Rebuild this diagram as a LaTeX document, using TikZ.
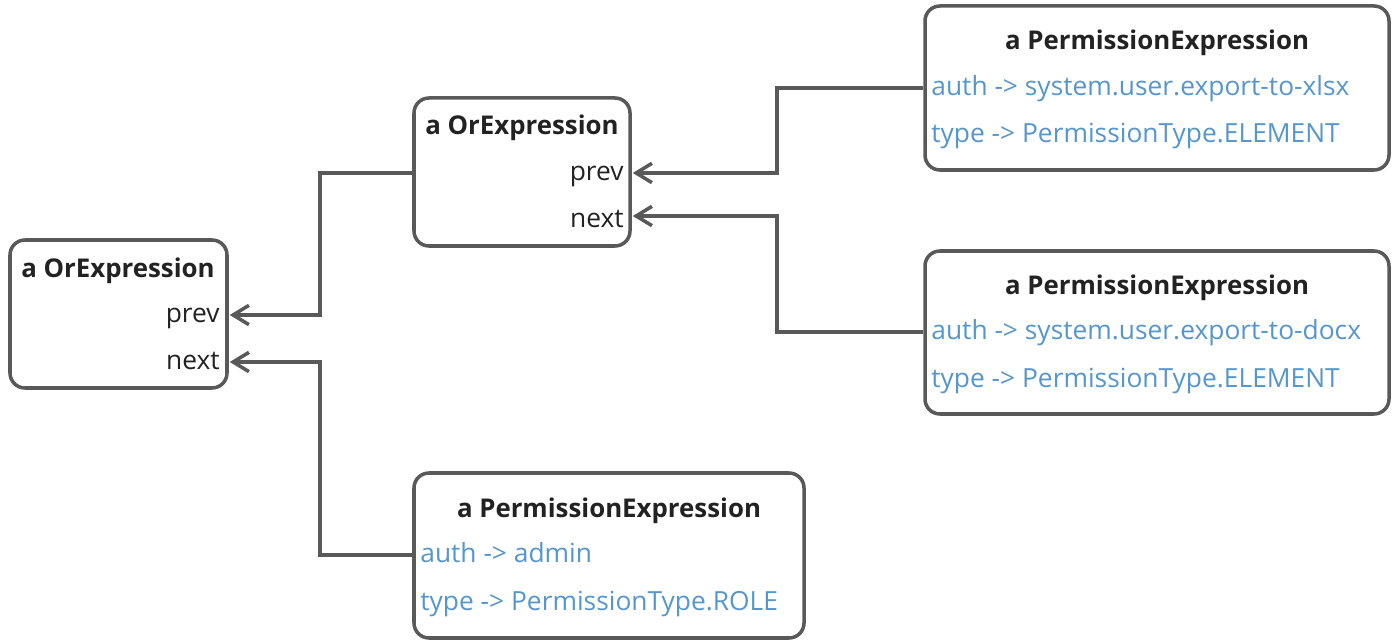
\documentclass[tikz,border=0pt]{standalone}
\usepackage{fontspec}
\setmainfont{Open Sans}
\usetikzlibrary{arrows.meta}
\definecolor{linegray}{HTML}{595959}
\definecolor{titleblack}{HTML}{222222}
\definecolor{fieldblue}{HTML}{5596CD}
\newdimen\upx \upx=0.02cm
\tikzset{
  objbox/.style={draw=linegray, line width=2pt, rounded corners=15\upx, inner sep=0pt},
  title/.style={font=\fontsize{14.7}{16}\selectfont\bfseries, text=titleblack, inner sep=0pt},
  slot/.style={font=\fontsize{15}{17}\selectfont, text=titleblack, inner sep=0pt, anchor=mid east},
  field/.style={font=\fontsize{15}{17}\selectfont, text=fieldblue, inner sep=0pt, anchor=mid west},
  ref/.style={draw=linegray, line width=2pt, -{Straight Barb[length=9pt, width=11pt, line width=2pt]}}
}
\begin{document}
\begin{tikzpicture}[x=0.02cm, y=-0.02cm]
  \useasboundingbox (0,0) rectangle (1399,644);
  % boxes
  \node[objbox, minimum width=217\upx, minimum height=148\upx] (orA) at (118.5,314) {};
  \node[objbox, minimum width=216\upx, minimum height=148\upx] (orB) at (522,172) {};
  \node[objbox, minimum width=464\upx, minimum height=164\upx] (permC) at (1157,88) {};
  \node[objbox, minimum width=464\upx, minimum height=163\upx] (permD) at (1157,332.5) {};
  \node[objbox, minimum width=390\upx, minimum height=165\upx] (permE) at (609,555.5) {};
  % texts
  \node[title] (orAtitle) at (118,271) {a OrExpression};
  \node[slot] (prevA) at (220,318) {prev};
  \node[slot] (nextA) at (220,365) {next};
  \node[title] (orBtitle) at (522,128) {a OrExpression};
  \node[slot] (prevB) at (624,176) {prev};
  \node[slot] (nextB) at (624,223) {next};
  \node[title] (permCtitle) at (1157,43) {a PermissionExpression};
  \node[field] (authC) at (931,91) {auth -> system.user.export-to-xlsx};
  \node[field] (typeC) at (931,138) {type -> PermissionType.ELEMENT};
  \node[title] (permDtitle) at (1157,288) {a PermissionExpression};
  \node[field] (authD) at (931,335) {auth -> system.user.export-to-docx};
  \node[field] (typeD) at (931,383) {type -> PermissionType.ELEMENT};
  \node[title] (permEtitle) at (609,511) {a PermissionExpression};
  \node[field] (authE) at (420,558) {auth -> admin};
  \node[field] (typeE) at (420,606) {type -> PermissionType.ROLE};
  % references
  \coordinate (jointL) at (320,0);
  \coordinate (jointR) at (777,0);
  \coordinate (pinA) at (0,315);
  \coordinate (pinB) at (0,362);
  \coordinate (pinC) at (0,173);
  \coordinate (pinD) at (0,216);
  \coordinate (pinE) at (0,88);
  \coordinate (pinF) at (0,332);
  \coordinate (pinG) at (0,555);
  \begin{scope}[line join=miter]
    \draw[ref] (orB.west |- pinC) -| (jointL |- pinA) -- ([xshift=0.02cm]orA.east |- pinA);
    \draw[ref] (permE.west |- pinG) -| (jointL |- pinB) -- ([xshift=0.02cm]orA.east |- pinB);
    \draw[ref] (permC.west |- pinE) -| (jointR |- pinC) -- ([xshift=0.02cm]orB.east |- pinC);
    \draw[ref] (permD.west |- pinF) -| (jointR |- pinD) -- ([xshift=0.02cm]orB.east |- pinD);
  \end{scope}
\end{tikzpicture}
\end{document}
